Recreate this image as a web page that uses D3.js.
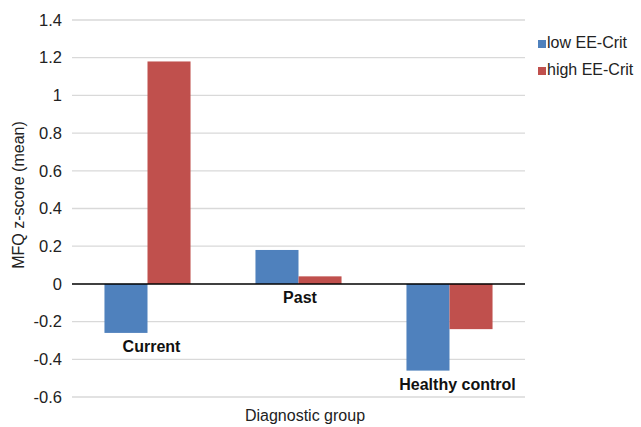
<!DOCTYPE html>
<html><head><meta charset="utf-8">
<script src="https://cdn.jsdelivr.net/npm/d3@7"></script>
<style>body{margin:0;background:#fff}svg{display:block;font-family:Arial,"Liberation Sans",sans-serif}</style>
</head><body><svg id="c" width="641" height="427"></svg>
<script>
const categories = ["Current", "Past", "Healthy control"];
const seriesNames = ["low EE-Crit", "high EE-Crit"];
const lowValues = [-0.26, 0.18, -0.46];
const highValues = [1.18, 0.04, -0.24];
const yTicks = [-0.6, -0.4, -0.2, 0, 0.2, 0.4, 0.6, 0.8, 1, 1.2, 1.4];
const colors = ["#4f81bd", "#c0504d"];

(function () {
const svg = d3.select("#c");
const mLeft = 72, mRight = 525, mTop = 20, mBottom = 397;
const y = d3.scaleLinear().domain([-0.6, 1.4]).range([mBottom, mTop]);
const x0 = d3.scaleBand().domain(categories).range([mLeft, mRight]).paddingInner(0.43).paddingOuter(0.215);
const x1 = d3.scaleBand().domain(seriesNames).range([0, x0.bandwidth()]);

// gridlines
svg.append("g").selectAll("line").data(yTicks.filter(d => d !== 0)).join("line")
  .attr("x1", mLeft).attr("x2", mRight)
  .attr("y1", d => y(d)).attr("y2", d => y(d))
  .attr("stroke", "#d9d9d9").attr("stroke-width", 1.3);

// y axis labels
const yAxis = d3.axisLeft(y).tickValues(yTicks).tickSize(0).tickPadding(10).tickFormat(d => String(d));
const ga = svg.append("g").attr("transform", `translate(${mLeft},0)`).call(yAxis);
ga.select(".domain").remove();
ga.selectAll("text").attr("font-size", 16.5).attr("fill", "#222").style("font-family", "Arial, 'Liberation Sans', sans-serif");

// bars
const data = categories.map((c, i) => ({c, vals: [lowValues[i], highValues[i]]}));
const g = svg.append("g");
data.forEach(d => {
  d.vals.forEach((v, j) => {
    g.append("rect")
      .attr("x", x0(d.c) + x1(seriesNames[j]))
      .attr("width", x1.bandwidth())
      .attr("y", y(Math.max(0, v)))
      .attr("height", Math.abs(y(v) - y(0)))
      .attr("fill", colors[j]);
  });
});

// zero line
svg.append("line").attr("x1", mLeft).attr("x2", mRight).attr("y1", y(0)).attr("y2", y(0))
  .attr("stroke", "#000").attr("stroke-width", 1.5);

// category labels below lowest bar in group
const labelShift = [4, 1.5, 8];
data.forEach((d, i) => {
  const mn = Math.min(0, ...d.vals);
  svg.append("text")
    .attr("x", x0(d.c) + x0.bandwidth() / 2 + labelShift[i])
    .attr("y", y(mn) + 19)
    .attr("text-anchor", "middle")
    .attr("font-size", 16).attr("font-weight", "bold").attr("fill", "#111")
    .text(d.c);
});

// axis titles
svg.append("text").attr("transform", "translate(24,195) rotate(-90)")
  .attr("text-anchor", "middle").attr("font-size", 16).attr("fill", "#222").text("MFQ z-score (mean)");
svg.append("text").attr("x", 305).attr("y", 421)
  .attr("text-anchor", "middle").attr("font-size", 16).attr("fill", "#222").text("Diagnostic group");

// legend
const lg = svg.append("g").attr("transform", "translate(538,35)");
seriesNames.forEach((s, i) => {
  const row = lg.append("g").attr("transform", `translate(0,${i * 27})`);
  row.append("rect").attr("x", 0).attr("y", 5).attr("width", 8).attr("height", 8).attr("fill", colors[i]);
  row.append("text").attr("x", 9).attr("y", 13).attr("font-size", 16).attr("fill", "#222").text(s);
});
})();
</script></body></html>
